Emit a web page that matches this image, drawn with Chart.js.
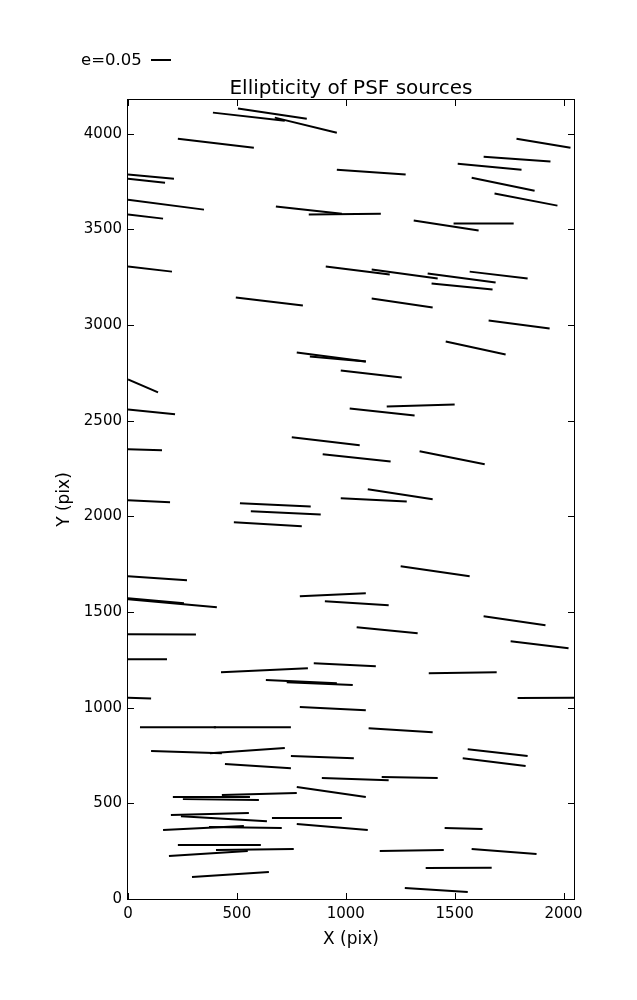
<!DOCTYPE html>
<html>
<head>
<meta charset="utf-8">
<script src="https://cdn.jsdelivr.net/npm/chart.js@4.4.0/dist/chart.umd.min.js"></script>
<style>
  html, body { margin: 0; padding: 0; background: #fff; }
</style>
</head>
<body>
<canvas id="psf" width="637" height="1000"></canvas>
<script>
// whisker endpoints in pixel coords of the detector (x, y in pix)
const x0 = [
  505, 390, 674, 229, 0, 0, 0, 0, 0, 495,
  959, 679, 830, 1312, 1495, 908, 1119, 1376, 1569, 1394,
  1119, 1784, 1633, 1514, 1578, 1683, 1656, 1459, 0, 0,
  0, 0, 775, 835, 977, 1018, 1188, 1339, 752, 894,
  1101, 977, 514, 564, 486, 0, 0, 0, 0, 0,
  427, 633, 729, 0, 1252, 789, 904, 1050, 853, 1633,
  1757, 1381, 1789, 55, 394, 106, 376, 445, 206, 252,
  431, 197, 243, 661, 161, 372, 775, 229, 404, 188,
  294, 789, 1105, 748, 890, 1165, 775, 1156, 1271, 1560,
  1537, 1454, 1578, 1367
];
const y0 = [
  4131, 4110, 4084, 3974, 3786, 3765, 3655, 3577, 3306, 3144,
  3812, 3619, 3577, 3546, 3530, 3306, 3290, 3269, 3279, 3217,
  3138, 3974, 3880, 3843, 3770, 3687, 3024, 2914, 2715, 2559,
  2350, 2084, 2856, 2836, 2762, 2564, 2574, 2340, 2413, 2324,
  2141, 2094, 2068, 2026, 1969, 1687, 1572, 1567, 1384, 1253,
  1185, 1144, 1133, 1052, 1739, 1582, 1556, 1420, 1232, 1478,
  1347, 1180, 1050, 898, 898, 773, 762, 705, 533, 522,
  543, 439, 433, 423, 360, 376, 585, 282, 256, 225,
  115, 1003, 893, 747, 632, 637, 392, 251, 57, 783,
  736, 371, 261, 162
];
const x1 = [
  821, 720, 959, 578, 211, 170, 349, 161, 202, 803,
  1275, 982, 1161, 1610, 1771, 1202, 1422, 1688, 1835, 1674,
  1399, 2032, 1940, 1807, 1867, 1972, 1936, 1734, 138, 216,
  156, 193, 1092, 1092, 1257, 1316, 1500, 1638, 1064, 1206,
  1399, 1280, 839, 885, 798, 271, 257, 408, 312, 179,
  826, 959, 1032, 106, 1569, 1092, 1197, 1330, 1138, 1917,
  2023, 1693, 2060, 404, 748, 431, 720, 748, 560, 601,
  775, 555, 638, 982, 532, 706, 1092, 610, 761, 550,
  647, 1092, 1399, 1037, 1197, 1422, 1101, 1450, 1560, 1835,
  1826, 1628, 1876, 1670
];
const y1 = [
  4078, 4068, 4005, 3927, 3765, 3744, 3603, 3556, 3279, 3102,
  3786, 3582, 3582, 3494, 3530, 3264, 3243, 3222, 3243, 3185,
  3091, 3927, 3854, 3812, 3702, 3624, 2982, 2846, 2648, 2533,
  2345, 2073, 2809, 2809, 2726, 2527, 2585, 2272, 2371, 2287,
  2089, 2078, 2052, 2010, 1948, 1666, 1546, 1525, 1382, 1253,
  1206, 1128, 1118, 1048, 1687, 1598, 1535, 1389, 1217, 1431,
  1311, 1185, 1052, 898, 898, 762, 789, 684, 533, 517,
  554, 449, 407, 423, 381, 371, 533, 282, 261, 251,
  141, 987, 872, 736, 621, 632, 360, 256, 37, 747,
  695, 366, 235, 163
];

const xTicks = [0, 500, 1000, 1500, 2000];
const yTicks = [0, 500, 1000, 1500, 2000, 2500, 3000, 3500, 4000];
const xMax = 2048;
const yMax = 4176;
const title = 'Ellipticity of PSF sources';
const xLabel = 'X (pix)';
const yLabel = 'Y (pix)';
const legendLabel = 'e=0.05';

const FONT = '"DejaVu Sans", sans-serif';
Chart.defaults.font.family = FONT;
Chart.defaults.color = '#000';

const datasets = x0.map((_, i) => ({
  data: [{ x: x0[i], y: y0[i] }, { x: x1[i], y: y1[i] }],
  showLine: true,
  borderColor: '#000',
  borderWidth: 2,
  pointRadius: 0,
  clip: 0
}));

// matplotlib style frame, inward ticks, title, axis titles and the e=0.05 key
const decor = {
  id: 'decor',
  afterDraw(chart) {
    const { ctx, chartArea: a, scales: { x, y } } = chart;
    ctx.save();
    ctx.strokeStyle = '#000';
    ctx.lineWidth = 1;
    ctx.strokeRect(a.left - 0.5, a.top - 0.5, a.right - a.left + 1, a.bottom - a.top + 1);

    ctx.beginPath();
    xTicks.forEach(v => {
      const px = Math.round(x.getPixelForValue(v)) + 0.5;
      ctx.moveTo(px, a.bottom); ctx.lineTo(px, a.bottom - 6);
      ctx.moveTo(px, a.top); ctx.lineTo(px, a.top + 6);
    });
    yTicks.forEach(v => {
      const py = Math.round(y.getPixelForValue(v)) + 0.5;
      ctx.moveTo(a.left, py); ctx.lineTo(a.left + 6, py);
      ctx.moveTo(a.right, py); ctx.lineTo(a.right - 6, py);
    });
    ctx.stroke();

    ctx.fillStyle = '#000';
    ctx.font = '20px ' + FONT;
    ctx.textAlign = 'center';
    ctx.textBaseline = 'alphabetic';
    ctx.fillText(title, (a.left + a.right) / 2, a.top - 6);

    ctx.font = '17px ' + FONT;
    ctx.fillText(xLabel, (a.left + a.right) / 2, 944);
    ctx.save();
    ctx.translate(69, (a.top + a.bottom) / 2);
    ctx.rotate(-Math.PI / 2);
    ctx.fillText(yLabel, 0, 0);
    ctx.restore();

    ctx.font = '16.5px ' + FONT;
    ctx.textAlign = 'left';
    ctx.textBaseline = 'middle';
    ctx.fillText(legendLabel, 81, 61);
    ctx.lineWidth = 2;
    ctx.beginPath();
    ctx.moveTo(151, 60);
    ctx.lineTo(171, 60);
    ctx.stroke();
    ctx.restore();
  }
};

new Chart(document.getElementById('psf'), {
  type: 'scatter',
  data: { datasets },
  plugins: [decor],
  options: {
    responsive: false,
    animation: false,
    layout: { padding: { top: 100, right: 63, left: 0, bottom: 0 } },
    plugins: {
      legend: { display: false },
      tooltip: { enabled: false },
      title: { display: false }
    },
    scales: {
      x: {
        type: 'linear',
        min: 0,
        max: xMax,
        afterBuildTicks: s => { s.ticks = xTicks.map(v => ({ value: v })); },
        afterFit: s => { s.height = 101; },
        grid: { display: false, drawTicks: false },
        border: { display: false },
        ticks: { color: '#000', font: { size: 15 }, padding: 6, maxRotation: 0, callback: v => String(v) }
      },
      y: {
        type: 'linear',
        min: 0,
        max: yMax,
        afterBuildTicks: s => { s.ticks = yTicks.map(v => ({ value: v })); },
        afterFit: s => { s.width = 128; },
        grid: { display: false, drawTicks: false },
        border: { display: false },
        ticks: { color: '#000', font: { size: 15 }, padding: 6, callback: v => String(v) }
      }
    }
  }
});
</script>
</body>
</html>
